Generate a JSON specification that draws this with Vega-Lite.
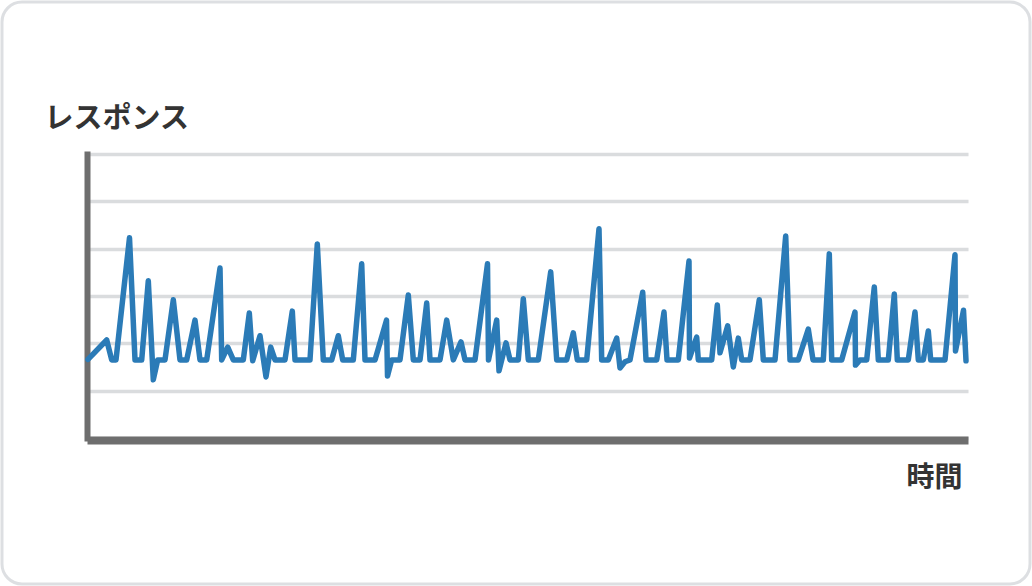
{
  "$schema": "https://vega.github.io/schema/vega-lite/v6.json",
  "width": 1028,
  "height": 582,
  "autosize": {"type": "none"},
  "padding": 2,
  "background": "#ffffff",
  "config": {
    "view": {"stroke": "#dddfe2", "strokeWidth": 3, "cornerRadius": 20, "fill": "#ffffff"}
  },
  "data": {
    "values": [
      {"t": 1, "v": 1.66}, {"t": 19.7, "v": 2.07}, {"t": 24.7, "v": 1.65}, {"t": 29, "v": 1.65},
      {"t": 42.5, "v": 4.23}, {"t": 48, "v": 1.65}, {"t": 54.7, "v": 1.65}, {"t": 61.3, "v": 3.32},
      {"t": 66.3, "v": 1.23}, {"t": 70.7, "v": 1.65}, {"t": 78, "v": 1.65}, {"t": 86.3, "v": 2.92},
      {"t": 93, "v": 1.65}, {"t": 99.7, "v": 1.65}, {"t": 108, "v": 2.49}, {"t": 113, "v": 1.65},
      {"t": 119.7, "v": 1.65}, {"t": 133, "v": 3.59}, {"t": 134.7, "v": 1.65}, {"t": 140.7, "v": 1.92},
      {"t": 146.3, "v": 1.65}, {"t": 156.3, "v": 1.65}, {"t": 162.3, "v": 2.64}, {"t": 165.7, "v": 1.63},
      {"t": 173, "v": 2.16}, {"t": 179, "v": 1.29}, {"t": 183.7, "v": 1.92}, {"t": 188, "v": 1.65},
      {"t": 198, "v": 1.65}, {"t": 205.3, "v": 2.68}, {"t": 208, "v": 1.65}, {"t": 223, "v": 1.65},
      {"t": 230.3, "v": 4.1}, {"t": 236.3, "v": 1.65}, {"t": 244.7, "v": 1.65}, {"t": 251.3, "v": 2.16},
      {"t": 255.7, "v": 1.65}, {"t": 266.3, "v": 1.65}, {"t": 274.7, "v": 3.68}, {"t": 278, "v": 1.65},
      {"t": 288, "v": 1.65}, {"t": 299.5, "v": 2.49}, {"t": 300.5, "v": 1.31}, {"t": 304.7, "v": 1.65},
      {"t": 313, "v": 1.65}, {"t": 321.3, "v": 3.02}, {"t": 326.3, "v": 1.65}, {"t": 333, "v": 1.65},
      {"t": 339.7, "v": 2.85}, {"t": 343, "v": 1.65}, {"t": 353, "v": 1.65}, {"t": 359.7, "v": 2.49},
      {"t": 366.3, "v": 1.65}, {"t": 374, "v": 2.03}, {"t": 378, "v": 1.65}, {"t": 388, "v": 1.65},
      {"t": 400.5, "v": 3.68}, {"t": 401.5, "v": 1.65}, {"t": 409.7, "v": 2.49}, {"t": 412, "v": 1.42},
      {"t": 419, "v": 2.01}, {"t": 423, "v": 1.65}, {"t": 431.3, "v": 1.65}, {"t": 436.3, "v": 2.94},
      {"t": 441.3, "v": 1.65}, {"t": 451.3, "v": 1.65}, {"t": 463.7, "v": 3.51}, {"t": 469.7, "v": 1.65},
      {"t": 479.7, "v": 1.65}, {"t": 486.3, "v": 2.22}, {"t": 490.3, "v": 1.65}, {"t": 499.7, "v": 1.65},
      {"t": 512, "v": 4.42}, {"t": 514.7, "v": 1.65}, {"t": 521.3, "v": 1.65}, {"t": 529.7, "v": 2.11},
      {"t": 533, "v": 1.48}, {"t": 538, "v": 1.61}, {"t": 543, "v": 1.65}, {"t": 555.7, "v": 3.08},
      {"t": 559, "v": 1.65}, {"t": 569.7, "v": 1.65}, {"t": 577, "v": 2.66}, {"t": 580, "v": 1.65},
      {"t": 591.3, "v": 1.65}, {"t": 602, "v": 3.74}, {"t": 602.5, "v": 1.69}, {"t": 609.7, "v": 2.13},
      {"t": 611.3, "v": 1.65}, {"t": 624.7, "v": 1.65}, {"t": 630.3, "v": 2.81}, {"t": 633, "v": 1.8},
      {"t": 640.7, "v": 2.37}, {"t": 646.3, "v": 1.5}, {"t": 651.3, "v": 2.11}, {"t": 654.7, "v": 1.65},
      {"t": 663, "v": 1.65}, {"t": 672.3, "v": 2.92}, {"t": 676.3, "v": 1.65}, {"t": 688, "v": 1.65},
      {"t": 698.7, "v": 4.27}, {"t": 703, "v": 1.65}, {"t": 711.3, "v": 1.65}, {"t": 721.3, "v": 2.3},
      {"t": 726, "v": 1.65}, {"t": 736.3, "v": 1.65}, {"t": 742.3, "v": 3.89}, {"t": 744.7, "v": 1.65},
      {"t": 754.7, "v": 1.65}, {"t": 768, "v": 2.66}, {"t": 768.5, "v": 1.54}, {"t": 773, "v": 1.65},
      {"t": 779.7, "v": 1.65}, {"t": 787.3, "v": 3.19}, {"t": 791.3, "v": 1.65}, {"t": 801.3, "v": 1.65},
      {"t": 807.3, "v": 3.04}, {"t": 810.3, "v": 1.65}, {"t": 821.3, "v": 1.65}, {"t": 828, "v": 2.66},
      {"t": 831.3, "v": 1.65}, {"t": 836.3, "v": 1.65}, {"t": 841.3, "v": 2.26}, {"t": 843.7, "v": 1.65},
      {"t": 858, "v": 1.65}, {"t": 868, "v": 3.87}, {"t": 868.5, "v": 1.84}, {"t": 876.5, "v": 2.7},
      {"t": 879, "v": 1.63}
    ]
  },
  "mark": {"type": "line", "color": "#2b7bb7", "strokeWidth": 5.5, "strokeJoin": "round", "strokeCap": "round", "clip": false},
  "encoding": {
    "x": {
      "field": "t",
      "type": "quantitative",
      "scale": {"domain": [0, 881], "range": [85, 966], "nice": false, "zero": false},
      "axis": {
        "offset": -144,
        "domain": true,
        "domainColor": "#6e6e6e",
        "domainWidth": 8,
        "domainCap": "butt",
        "ticks": false,
        "labels": false,
        "grid": false,
        "title": "時間",
        "titleX": 960,
        "titleY": 46,
        "titleAlign": "right",
        "titleBaseline": "alphabetic",
        "titleFont": "Noto Sans CJK JP",
        "titleFontSize": 28,
        "titleFontWeight": "bold",
        "titleColor": "#333333"
      }
    },
    "y": {
      "field": "v",
      "type": "quantitative",
      "scale": {"domain": [0, 6], "range": [436, 152], "nice": false, "zero": false},
      "axis": {
        "offset": -85,
        "values": [0, 1, 2, 3, 4, 5, 6],
        "domain": true,
        "domainColor": "#6e6e6e",
        "domainWidth": 6,
        "domainCap": "square",
        "ticks": false,
        "labels": false,
        "grid": true,
        "gridColor": "#dadcde",
        "gridWidth": 3.5,
        "title": "レスポンス",
        "titleX": -43,
        "titleY": 125,
        "titleAngle": 0,
        "titleAlign": "left",
        "titleBaseline": "alphabetic",
        "titleFont": "Noto Sans CJK JP",
        "titleFontSize": 29,
        "titleFontWeight": "bold",
        "titleColor": "#333333"
      }
    }
  }
}
